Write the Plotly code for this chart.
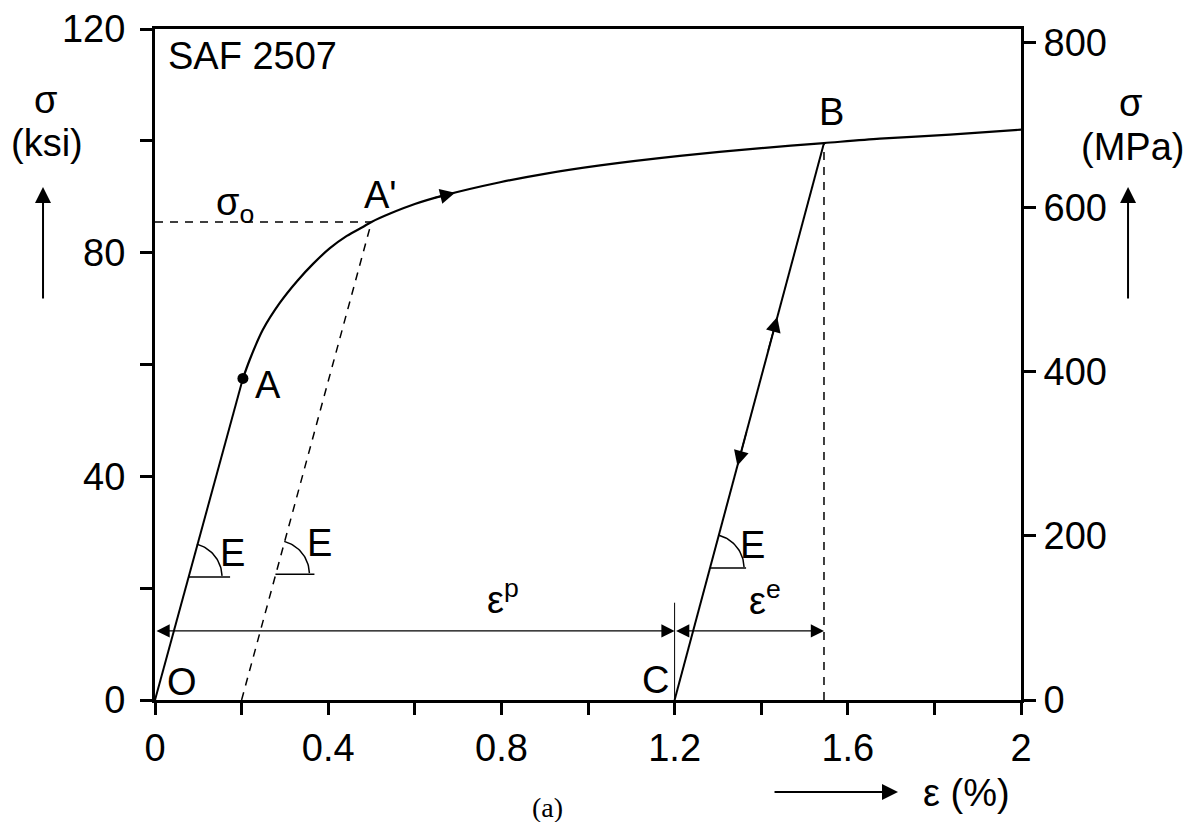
import numpy as np
import plotly.graph_objects as go

# ---- data ----
eps_elastic = [0, 0.077, 0.203]
sig_elastic = [0, 22.0, 57.5]
eps_plastic = [0.203, 0.219, 0.249, 0.289, 0.328, 0.365, 0.404, 0.443, 0.480, 0.500,
               0.543, 0.60, 0.665, 0.797, 0.90, 1.028, 1.212, 1.40, 1.545, 1.674, 1.836, 2.0]
sig_plastic = [57.5, 60.9, 66.2, 71.1, 74.9, 78.0, 80.8, 83.0, 84.6, 85.5,
               87.0, 88.7, 90.2, 92.6, 94.1, 95.6, 97.3, 98.7, 99.6, 100.4, 101.1, 102.0]
eps_unload = [1.2, 1.545]
sig_unload = [0, 99.6]
point_A = (0.203, 57.5)
sigma_o = 85.5
eps_offset = [0.2, 0.5]
sig_offset = [0, 85.5]
eps_B = 1.545
sig_B = 99.6
eps_C = 1.2
arrow_sig = 12.35
E_modulus = 288.0  # ksi per %

x_ticks = [0, 0.2, 0.4, 0.6, 0.8, 1.0, 1.2, 1.4, 1.6, 1.8, 2.0]
x_ticktext = ['0', '', '0.4', '', '0.8', '', '1.2', '', '1.6', '', '2']
y_ticks = [0, 20, 40, 60, 80, 100, 120]
y_ticktext = ['0', '', '40', '', '80', '', '120']
y2_ticks = [0, 200, 400, 600, 800]
y2_ticktext = ['0', '200', '400', '600', '800']

FONT = "Liberation Sans, Arial, Helvetica, sans-serif"
FS = 38
BLACK = "black"

# pixel scale helpers for small decorations (px per unit)
PXX = 866 / 2.0
PXY = 671 / 120.0

fig = go.Figure()

fig.add_trace(go.Scatter(x=eps_elastic, y=sig_elastic, mode='lines',
                         line=dict(color=BLACK, width=2), showlegend=False))
fig.add_trace(go.Scatter(x=eps_plastic, y=sig_plastic, mode='lines',
                         line=dict(color=BLACK, width=2.2, shape='spline', smoothing=0.8),
                         showlegend=False))
fig.add_trace(go.Scatter(x=eps_unload, y=sig_unload, mode='lines',
                         line=dict(color=BLACK, width=2), showlegend=False))
fig.add_trace(go.Scatter(x=[0, 0.5], y=[sigma_o, sigma_o], mode='lines',
                         line=dict(color=BLACK, width=1.5, dash='8px,7px'), showlegend=False))
fig.add_trace(go.Scatter(x=eps_offset, y=sig_offset, mode='lines',
                         line=dict(color=BLACK, width=1.5, dash='8px,7px'), showlegend=False))
fig.add_trace(go.Scatter(x=[eps_B, eps_B], y=[0, sig_B], mode='lines',
                         line=dict(color=BLACK, width=1.5, dash='8px,7px'), showlegend=False))
fig.add_trace(go.Scatter(x=[eps_C, eps_C], y=[0, 17.4], mode='lines',
                         line=dict(color=BLACK, width=1), showlegend=False))
fig.add_trace(go.Scatter(x=[point_A[0]], y=[point_A[1]], mode='markers',
                         marker=dict(color=BLACK, size=11), showlegend=False))

def e_symbol(eps0, sig0, length_px):
    fig.add_trace(go.Scatter(x=[eps0, eps0 + length_px / PXX], y=[sig0, sig0], mode='lines',
                             line=dict(color=BLACK, width=1.5), showlegend=False))
    ang = np.arctan(E_modulus * PXY / PXX)
    t = np.linspace(0.03, ang, 30)
    r = 34
    fig.add_trace(go.Scatter(x=eps0 + r * np.cos(t) / PXX, y=sig0 + r * np.sin(t) / PXY,
                             mode='lines', line=dict(color=BLACK, width=1.5), showlegend=False))

e_symbol(22.0 / E_modulus, 22.0, 42)
e_symbol(0.2 + 22.5 / E_modulus, 22.5, 39)
e_symbol(1.2 + 23.6 / E_modulus, 23.6, 36)

fig.add_trace(go.Scatter(x=[0], y=[0], yaxis='y2', mode='markers',
                         marker=dict(opacity=0), showlegend=False, hoverinfo='skip'))

ann = []
def txt(x, y, s, size=FS, xref='x', yref='y', family=FONT, xanchor='center'):
    ann.append(dict(x=x, y=y, xref=xref, yref=yref, text=s, showarrow=False,
                    font=dict(family=family, size=size, color=BLACK), xanchor=xanchor,
                    yanchor='middle'))

txt(0.062, 3.2, 'O')
txt(0.261, 56.4, 'A')
txt(0.52, 90.4, "A'")
txt(1.563, 105.1, 'B')
txt(1.155, 3.6, 'C')
txt(0.185, 88.6, 'σ<sub>o</sub>')
txt(0.178, 26.3, 'E')
txt(0.381, 28.1, 'E')
txt(1.381, 27.7, 'E')
txt(0.804, 18.4, 'ε<sup>p</sup>')
txt(1.409, 18.3, 'ε<sup>e</sup>')
txt(0.025, 115.1, 'SAF 2507', xanchor='left')

txt(-0.127, 0.894, 'σ', xref='paper', yref='paper')
txt(-0.1247, 0.830, '(ksi)', xref='paper', yref='paper')
txt(1.127, 0.8897, 'σ', xref='paper', yref='paper')
txt(1.1293, 0.824, '(MPa)', xref='paper', yref='paper')
txt(0.9365, -0.1386, 'ε (%)', xref='paper', yref='paper')
txt(0.4538, -0.1595, '(a)', size=28, xref='paper', yref='paper',
    family="Liberation Serif, Times New Roman, serif")

def arrow(x, y, ax, ay, xref='x', yref='y', axref=None, ayref=None, width=2, size=1.6, side='end'):
    d = dict(x=x, y=y, ax=ax, ay=ay, xref=xref, yref=yref, showarrow=True, text='',
             arrowhead=2, arrowsize=size, arrowwidth=width, arrowcolor=BLACK, arrowside=side)
    if axref:
        d['axref'] = axref
    if ayref:
        d['ayref'] = ayref
    ann.append(d)

arrow(-0.1293, 0.7645, 0, 113, xref='paper', yref='paper')
arrow(1.1236, 0.7645, 0, 113, xref='paper', yref='paper')
arrow(0.858, -0.137, -125, 0, xref='paper', yref='paper')

arrow(eps_C, arrow_sig, 0.0, arrow_sig, axref='x', ayref='y', width=1.2, size=2.2, side='end+start')
arrow(eps_B, arrow_sig, eps_C, arrow_sig, axref='x', ayref='y', width=1.2, size=2.2, side='end+start')

arrow(0.693, 90.7, 0.64, 89.7, axref='x', ayref='y', width=1.5, size=2.0)
arrow(1.437, 68.5, 1.415, 62.2, axref='x', ayref='y', width=1.5, size=2.0)
arrow(1.345, 41.9, 1.367, 48.2, axref='x', ayref='y', width=1.5, size=2.0)

axis_common = dict(showgrid=False, zeroline=False, showline=True, linecolor=BLACK, linewidth=3,
                   ticks='outside', ticklen=12, tickwidth=3, tickcolor=BLACK, automargin=False,
                   tickfont=dict(family=FONT, size=FS, color=BLACK))

fig.update_layout(
    width=1183, height=814, autosize=False,
    margin=dict(l=147, r=170, t=21, b=122, autoexpand=False),
    paper_bgcolor='white', plot_bgcolor='white',
    xaxis=dict(range=[0, 2.0], tickvals=x_ticks, ticktext=x_ticktext, mirror=True,
               ticklabelstandoff=0, **axis_common),
    yaxis=dict(range=[0, 120], tickvals=y_ticks, ticktext=y_ticktext,
               ticklabelstandoff=7, **axis_common),
    yaxis2=dict(range=[0, 817], tickvals=y2_ticks, ticktext=y2_ticktext, overlaying='y',
                side='right', ticklabelstandoff=0, **axis_common),
    annotations=ann,
    showlegend=False,
)

fig.write_html("out.html")
